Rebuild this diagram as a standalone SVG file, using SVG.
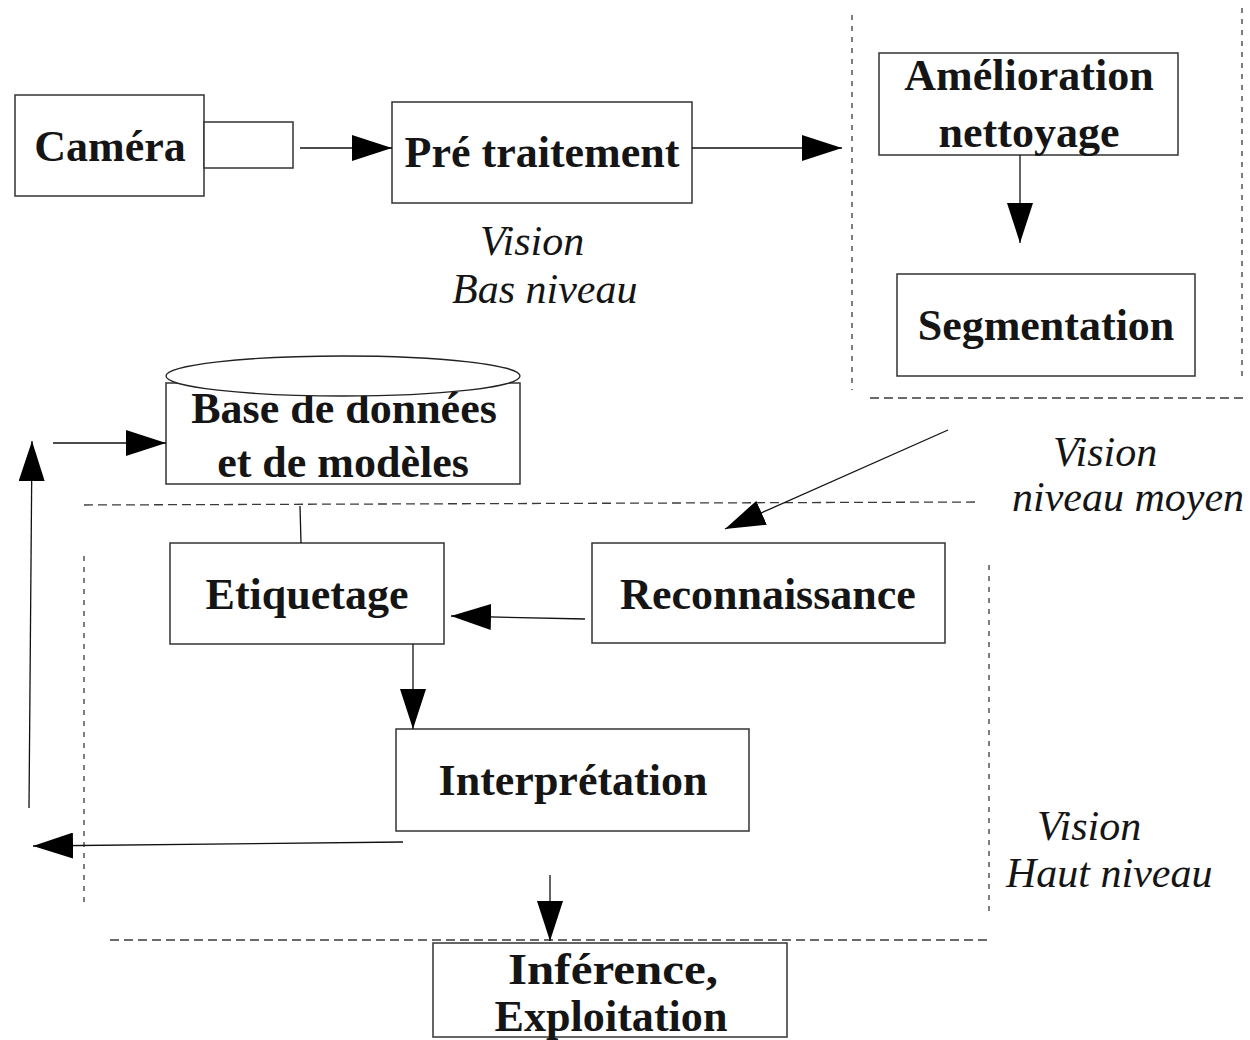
<svg xmlns="http://www.w3.org/2000/svg" width="1250" height="1040" viewBox="0 0 1250 1040">
<defs>
<marker id="ah" markerUnits="userSpaceOnUse" markerWidth="40" markerHeight="26" refX="40" refY="13" orient="auto">
<path d="M0,0 L40,13 L0,26 z" fill="#000"/>
</marker>
<style>
.box{fill:#fff;stroke:#333;stroke-width:1.5}
.lbl{font-family:"Liberation Serif",serif;font-weight:bold;font-size:44px;fill:#151515;text-anchor:middle}
.it{font-family:"Liberation Serif",serif;font-style:italic;font-size:42px;fill:#151515}
.con{stroke:#111;stroke-width:1.3;fill:none}
.arr{marker-end:url(#ah)}
.dh{stroke:#3a3a3a;stroke-width:1.3;stroke-dasharray:9,5;fill:none}
.dv{stroke:#3a3a3a;stroke-width:1.3;stroke-dasharray:5,6;fill:none}
</style>
</defs>
<rect width="1250" height="1040" fill="#fff"/>

<g id="zones">
<line class="dv" x1="852" y1="15" x2="852" y2="390"/>
<line class="dv" x1="1242" y1="8" x2="1242" y2="380"/>
<line class="dh" x1="870" y1="398" x2="1248" y2="398"/>
<line class="dh" x1="84" y1="505" x2="975" y2="502"/>
<line class="dv" x1="84" y1="556" x2="84" y2="905"/>
<line class="dv" x1="989" y1="565" x2="989" y2="912"/>
<line class="dh" x1="110" y1="940" x2="992" y2="940"/>
</g>

<g id="camera">
<rect class="box" x="15" y="95" width="189" height="101"/>
<rect class="box" x="204" y="122" width="89" height="46"/>
<text class="lbl" x="110" y="161">Caméra</text>
</g>

<g id="pretraitement">
<rect class="box" x="392" y="102" width="300" height="101"/>
<text class="lbl" x="542" y="167">Pré traitement</text>
</g>

<g id="amelioration">
<rect class="box" x="879" y="53" width="299" height="102"/>
<text class="lbl" x="1029" y="90">Amélioration</text>
<text class="lbl" x="1029" y="147">nettoyage</text>
</g>

<g id="segmentation">
<rect class="box" x="897" y="274" width="298" height="102"/>
<text class="lbl" x="1046" y="340">Segmentation</text>
</g>

<g id="base">
<rect class="box" x="166" y="383" width="354" height="101"/>
<text class="lbl" x="344" y="423">Base de données</text>
<text class="lbl" x="343" y="477">et de modèles</text>
<ellipse cx="343" cy="376" rx="177" ry="20" fill="#fff" stroke="#222" stroke-width="1.3"/>
</g>

<g id="etiquetage">
<rect class="box" x="170" y="543" width="274" height="101"/>
<text class="lbl" x="307" y="609">Etiquetage</text>
</g>

<g id="reconnaissance">
<rect class="box" x="592" y="543" width="353" height="100"/>
<text class="lbl" x="768" y="609">Reconnaissance</text>
</g>

<g id="interpretation">
<rect class="box" x="396" y="729" width="353" height="102"/>
<text class="lbl" x="573" y="795">Interprétation</text>
</g>

<g id="inference">
<rect class="box" x="433" y="943" width="354" height="94"/>
<text class="lbl" x="613" y="984" font-size="52" textLength="210" lengthAdjust="spacingAndGlyphs">Inférence,</text>
<text class="lbl" x="611" y="1031" font-size="52" textLength="233" lengthAdjust="spacingAndGlyphs">Exploitation</text>
</g>

<g id="labels">
<text class="it" x="480" y="255">Vision</text>
<text class="it" x="452" y="303">Bas niveau</text>
<text class="it" x="1053" y="466">Vision</text>
<text class="it" x="1012" y="511">niveau moyen</text>
<text class="it" x="1037" y="840">Vision</text>
<text class="it" x="1006" y="887">Haut niveau</text>
</g>

<g id="connectors">
<line class="con arr" x1="300" y1="148" x2="392" y2="148"/>
<line class="con arr" x1="692" y1="148" x2="842" y2="148"/>
<line class="con arr" x1="1020" y1="155" x2="1020" y2="243"/>
<line class="con arr" x1="948" y1="430" x2="725" y2="529"/>
<line class="con arr" x1="585" y1="619" x2="451" y2="616"/>
<line class="con arr" x1="413" y1="644" x2="413" y2="729"/>
<line class="con arr" x1="403" y1="842" x2="33" y2="846"/>
<line class="con arr" x1="29" y1="808" x2="32" y2="441"/>
<line class="con arr" x1="53" y1="443" x2="166" y2="443"/>
<line class="con" x1="300" y1="506" x2="301" y2="543"/>
<line class="con arr" x1="550" y1="875" x2="550" y2="941"/>
</g>
</svg>
